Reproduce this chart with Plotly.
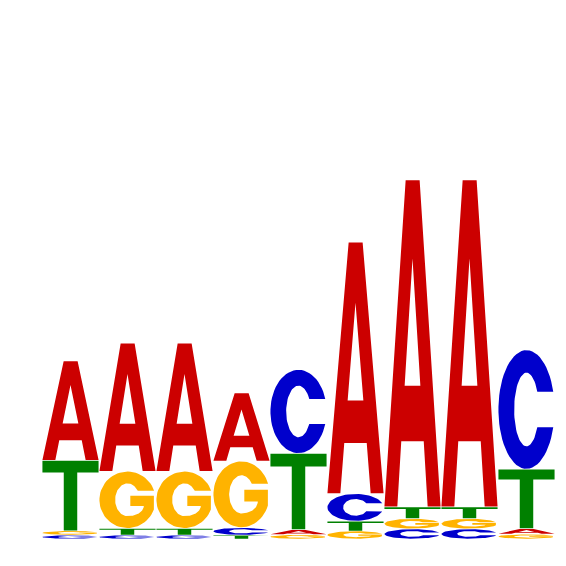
import numpy as np
import plotly.graph_objects as go

# information content (bits) per base
positions = [1, 2, 3, 4, 5, 6, 7, 8, 9]
bases = ["A", "C", "G", "T"]
height_A = [0.383, 0.494, 0.494, 0.263, 0.019, 0.969, 1.260, 1.260, 0.021]
height_C = [0.015, 0.015, 0.015, 0.029, 0.323, 0.106, 0.039, 0.039, 0.460]
height_G = [0.017, 0.220, 0.220, 0.256, 0.017, 0.031, 0.040, 0.040, 0.019]
height_T = [0.271, 0.026, 0.026, 0.015, 0.294, 0.038, 0.045, 0.045, 0.229]

colors = {"A": "#CC0000", "C": "#0000CC", "G": "#FFB300", "T": "#008000"}


def arc(t0, t1, rx, ry, cx=0.5, cy=0.5, n=60):
    t = np.radians(np.linspace(t0, t1, n))
    return list(cx + rx * np.cos(t)), list(cy + ry * np.sin(t))


def glyph(base):
    # letter outlines in a unit box, list of polygons (holes wound the other way)
    if base == "A":
        outer = ([0, 0.378, 0.627, 1, 0.77, 0.70, 0.30, 0.23],
                 [0, 1, 1, 0, 0, 0.2, 0.2, 0])
        hole = ([0.64, 0.5, 0.36], [0.37, 0.76, 0.37])
        return [outer, hole]
    if base == "T":
        return [([0, 1, 1, 0.62, 0.62, 0.38, 0.38, 0],
                 [1, 1, 0.83, 0.83, 0, 0, 0.83, 0.83])]
    if base == "C":
        ox, oy = arc(17.5, 342.5, 0.5, 0.5)
        ix, iy = arc(331.1, 28.9, 0.22, 0.31)
        return [(ox + ix, oy + iy)]
    # G: outer curve, bar, then the counter back to the upper terminal
    ox, oy = arc(18.7, 340, 0.5, 0.5)
    sx, sy = arc(0, -90, 0.29, 0.18, cy=0.39, n=30)
    ix, iy = arc(-90, -326.5, 0.22, 0.29)
    xs = ox + [0.97, 0.55, 0.55] + sx + ix
    ys = oy + [0.57, 0.57, 0.39] + sy + iy
    return [(xs, ys)]


heights = {"A": height_A, "C": height_C, "G": height_G, "T": height_T}
letter_w = 0.985
pad = 0.0012

fig = go.Figure()

for i, pos in enumerate(positions):
    stack = sorted(bases, key=lambda b: heights[b][i])
    y0 = 0.0
    for b in stack:
        h = heights[b][i]
        xs, ys = [], []
        for gx, gy in glyph(b):
            xs += [pos - letter_w / 2 + u * letter_w for u in gx] + [None]
            ys += [y0 + pad + v * (h - 2 * pad) for v in gy] + [None]
        fig.add_trace(go.Scatter(
            x=xs, y=ys,
            mode="lines",
            fill="toself",
            fillcolor=colors[b],
            line=dict(width=0, color=colors[b]),
            hoverinfo="skip",
            showlegend=False,
        ))
        y0 += h

fig.update_xaxes(range=[0.5, 9.5], visible=False, fixedrange=True)
fig.update_yaxes(range=[0, 2], visible=False, fixedrange=True)

# the page body adds an 8px offset, so margins are shifted to compensate
fig.update_layout(
    width=566,
    height=566,
    margin=dict(l=33.8, r=19.2, t=11.5, b=34.5),
    plot_bgcolor="white",
    paper_bgcolor="white",
)

fig.write_html("out.html")
